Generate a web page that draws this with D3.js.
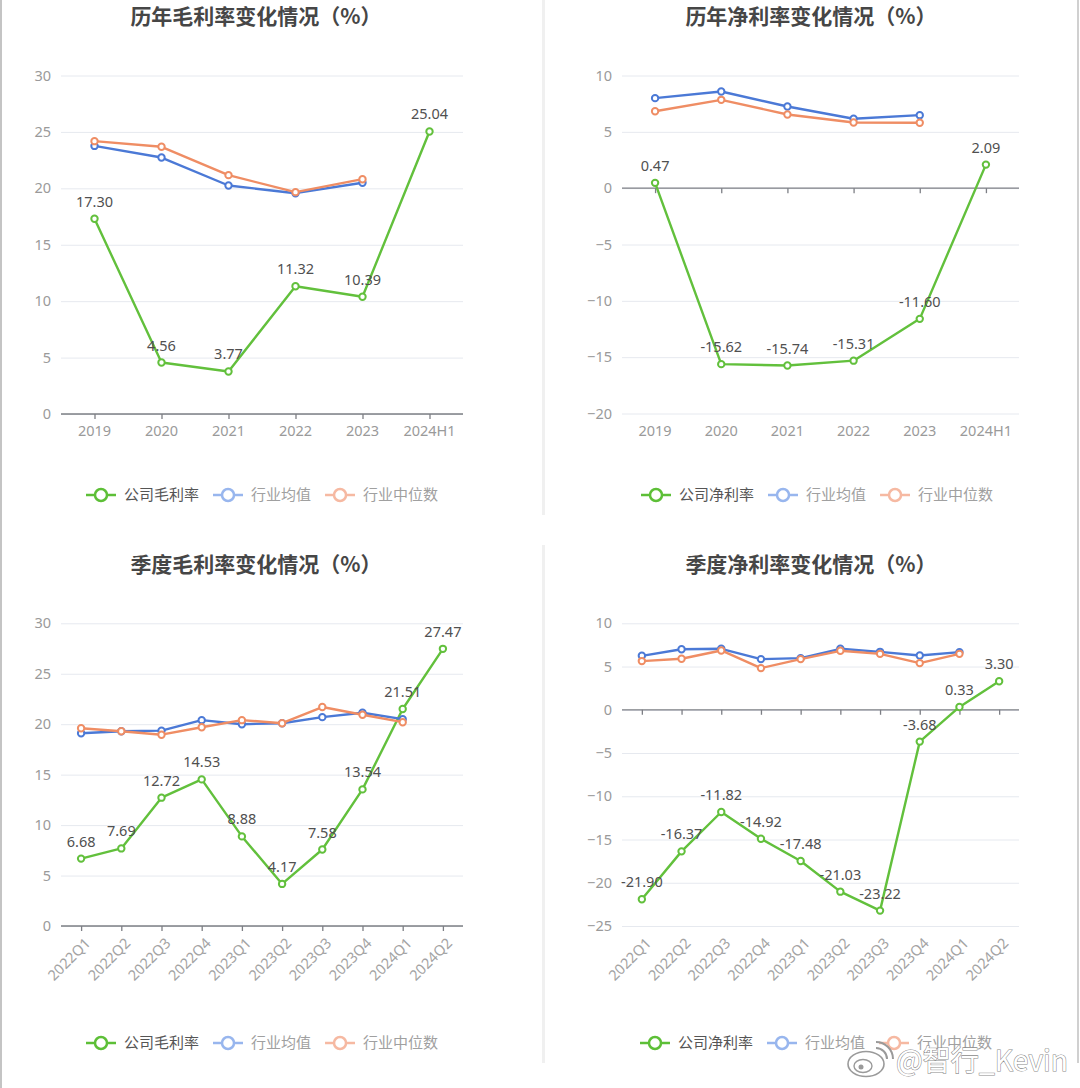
<!DOCTYPE html>
<html><head><meta charset="utf-8">
<script src="https://cdn.jsdelivr.net/npm/d3@7"></script>
<style>html,body{margin:0;padding:0;background:#fff;}svg{display:block;font-family:"Noto Sans CJK SC","Noto Sans",sans-serif;}</style>
</head><body>
<svg id="c" width="1080" height="1088"></svg>
<script>
// ---------- data ----------
const yearCats = ["2019","2020","2021","2022","2023","2024H1"];
const quarterCats = ["2022Q1","2022Q2","2022Q3","2022Q4","2023Q1","2023Q2","2023Q3","2023Q4","2024Q1","2024Q2"];

const annualGross       = [17.30, 4.56, 3.77, 11.32, 10.39, 25.04];
const annualGrossAvg    = [23.76, 22.73, 20.25, 19.57, 20.49, null];
const annualGrossMedian = [24.18, 23.68, 21.17, 19.66, 20.81, null];

const annualNet       = [0.47, -15.62, -15.74, -15.31, -11.60, 2.09];
const annualNetAvg    = [7.99, 8.58, 7.25, 6.16, 6.48, null];
const annualNetMedian = [6.83, 7.84, 6.54, 5.83, 5.80, null];

const quarterGross       = [6.68, 7.69, 12.72, 14.53, 8.88, 4.17, 7.58, 13.54, 21.51, 27.47];
const quarterGrossAvg    = [19.1, 19.3, 19.36, 20.4, 20.0, 20.1, 20.7, 21.14, 20.5, null];
const quarterGrossMedian = [19.6, 19.3, 18.96, 19.7, 20.4, 20.1, 21.7, 20.94, 20.2, null];

const quarterNet       = [-21.90, -16.37, -11.82, -14.92, -17.48, -21.03, -23.22, -3.68, 0.33, 3.30];
const quarterNetAvg    = [6.24, 7.0, 7.05, 5.86, 5.97, 7.05, 6.7, 6.28, 6.67, null];
const quarterNetMedian = [5.63, 5.9, 6.86, 4.82, 5.86, 6.82, 6.47, 5.4, 6.47, null];

const grossTicks = [0, 5, 10, 15, 20, 25, 30];
const annualNetTicks = [-20, -15, -10, -5, 0, 5, 10];
const quarterNetTicks = [-25, -20, -15, -10, -5, 0, 5, 10];

const titles = ["历年毛利率变化情况（%）", "历年净利率变化情况（%）", "季度毛利率变化情况（%）", "季度净利率变化情况（%）"];
const grossLegend = ["公司毛利率", "行业均值", "行业中位数"];
const netLegend = ["公司净利率", "行业均值", "行业中位数"];
const watermark = "@智行_Kevin";

// ---------- style ----------
const GREEN = "#62c03c", BLUE = "#4b79d6", ORANGE = "#ef8d64";
const LEG_COLORS = ["#5dbf37", "#98b6ee", "#f6b9a2"];
const svg = d3.select("#c");

// panel frame
svg.append("rect").attr("x",0).attr("y",0).attr("width",1080).attr("height",1088).attr("fill","#fff");
svg.append("rect").attr("x",0).attr("y",0).attr("width",2).attr("height",1088).attr("fill","#c4c4c4");
svg.append("rect").attr("x",1077).attr("y",0).attr("width",2).attr("height",1063).attr("fill","#d0d0d0");
svg.append("rect").attr("x",542).attr("y",0).attr("width",3).attr("height",515).attr("fill","#f0f0f0");
svg.append("rect").attr("x",542).attr("y",545).attr("width",3).attr("height",518).attr("fill","#f0f0f0");

function drawChart(cfg) {
  const g = svg.append("g");
  const x = d3.scalePoint().domain(cfg.cats).range([cfg.left, cfg.right]).padding(0.5);
  const y = d3.scaleLinear().domain(cfg.domain).range([cfg.bottom, cfg.top]);

  // title
  g.append("text").attr("x", cfg.titleX).attr("y", cfg.titleY)
    .attr("text-anchor","middle").attr("font-size",21).attr("font-weight","bold")
    .attr("fill","#464646").text(cfg.title);

  // grid
  const yAxis = d3.axisLeft(y).tickValues(cfg.ticks).tickSize(-(cfg.right-cfg.left)).tickPadding(10).tickFormat(d3.format("d"));
  const ga = g.append("g").attr("transform", `translate(${cfg.left},0)`).call(yAxis);
  ga.select(".domain").remove();
  ga.selectAll(".tick line").attr("stroke","#e6e9ef").attr("stroke-width",1);
  ga.selectAll(".tick text").attr("fill","#9a9a9a").attr("font-size",14.5).attr("font-family","Noto Sans, sans-serif");

  // zero axis with ticks
  const xAxis = d3.axisBottom(x).tickSize(5).tickFormat("");
  const gx = g.append("g").attr("transform", `translate(0,${y(0)})`).call(xAxis);
  gx.select(".domain").attr("stroke","#7d7f85").attr("stroke-width",1.3).attr("d", `M${cfg.left},0H${cfg.right}`);
  gx.selectAll(".tick line").attr("stroke","#7d7f85").attr("stroke-width",1.3);

  // category labels at bottom
  const lab = g.append("g");
  cfg.cats.forEach(c => {
    if (cfg.rotate) {
      lab.append("text").attr("transform", `translate(${x(c)+3},${cfg.bottom+11}) rotate(-45)`)
        .attr("text-anchor","end").attr("dy","0.7em").attr("font-size",14.5).attr("fill","#a3a3a3")
        .attr("font-family","Noto Sans, sans-serif").text(c);
    } else {
      lab.append("text").attr("x", x(c)).attr("y", cfg.bottom + 22).attr("text-anchor","middle")
        .attr("font-size",14.5).attr("fill","#9a9a9a").attr("font-family","Noto Sans, sans-serif").text(c);
    }
  });

  // series
  const line = d3.line().defined(d => d.v !== null).x(d => x(d.c)).y(d => y(d.v));
  cfg.series.forEach(s => {
    const pts = cfg.cats.map((c,i) => ({c, v: s.values[i]}));
    g.append("path").datum(pts).attr("d", line).attr("fill","none")
      .attr("stroke", s.color).attr("stroke-width", 2.4).attr("stroke-linejoin","round");
    g.selectAll(null).data(pts.filter(d => d.v !== null)).enter().append("circle")
      .attr("cx", d => x(d.c)).attr("cy", d => y(d.v)).attr("r", 3.2)
      .attr("fill","#fff").attr("stroke", s.color).attr("stroke-width", 2);
  });
  // labels for company series
  const comp = cfg.series.find(s => s.labels);
  cfg.cats.forEach((c,i) => {
    g.append("text").attr("x", x(c)).attr("y", y(comp.values[i]) - 12)
      .attr("text-anchor","middle").attr("font-size",14.5).attr("fill","#505050")
      .attr("font-family","Noto Sans, sans-serif").text(comp.values[i].toFixed(2));
  });

  // legend
  const lg = g.append("g");
  let lx = cfg.legendX;
  cfg.legend.forEach((name, i) => {
    const col = LEG_COLORS[i];
    lg.append("line").attr("x1", lx).attr("x2", lx+30).attr("y1", cfg.legendY).attr("y2", cfg.legendY)
      .attr("stroke", col).attr("stroke-width", 2.5);
    lg.append("circle").attr("cx", lx+15).attr("cy", cfg.legendY).attr("r", 6)
      .attr("fill","#fff").attr("stroke", col).attr("stroke-width", 2.5);
    const t = lg.append("text").attr("x", lx+38).attr("y", cfg.legendY).attr("dy","0.36em")
      .attr("font-size",15).attr("fill", i === 0 ? "#555" : "#a0a0a0").text(name);
    lx += 38 + t.node().getComputedTextLength() + 14;
  });
}

drawChart({title: titles[0], titleX: 256, titleY: 24, cats: yearCats, domain: [0,30], ticks: grossTicks,
  left: 61, right: 463, top: 75.5, bottom: 414, rotate: false, legend: grossLegend, legendX: 86, legendY: 495,
  series: [{values: annualGross, color: GREEN, labels: true}, {values: annualGrossAvg, color: BLUE}, {values: annualGrossMedian, color: ORANGE}]});

drawChart({title: titles[1], titleX: 811, titleY: 24, cats: yearCats, domain: [-20,10], ticks: annualNetTicks,
  left: 622, right: 1019, top: 75.5, bottom: 413.5, rotate: false, legend: netLegend, legendX: 641, legendY: 495,
  series: [{values: annualNet, color: GREEN, labels: true}, {values: annualNetAvg, color: BLUE}, {values: annualNetMedian, color: ORANGE}]});

drawChart({title: titles[2], titleX: 256, titleY: 572, cats: quarterCats, domain: [0,30], ticks: grossTicks,
  left: 61, right: 463, top: 623.3, bottom: 926, rotate: true, legend: grossLegend, legendX: 86, legendY: 1043,
  series: [{values: quarterGross, color: GREEN, labels: true}, {values: quarterGrossAvg, color: BLUE}, {values: quarterGrossMedian, color: ORANGE}]});

drawChart({title: titles[3], titleX: 811, titleY: 572, cats: quarterCats, domain: [-25,10], ticks: quarterNetTicks,
  left: 622, right: 1019, top: 623.3, bottom: 926, rotate: true, legend: netLegend, legendX: 640, legendY: 1043,
  series: [{values: quarterNet, color: GREEN, labels: true}, {values: quarterNetAvg, color: BLUE}, {values: quarterNetMedian, color: ORANGE}]});

// watermark
const wm = svg.append("g");
wm.append("ellipse").attr("cx", 866).attr("cy", 1064).attr("rx", 18).attr("ry", 12.5)
  .attr("fill","#fff").attr("stroke","#9a9a9a").attr("stroke-width",1.6);
wm.append("ellipse").attr("cx", 863).attr("cy", 1066).attr("rx", 9).attr("ry", 6.5)
  .attr("fill","#fff").attr("stroke","#9a9a9a").attr("stroke-width",1.4);
wm.append("circle").attr("cx", 861).attr("cy", 1067).attr("r", 2.5).attr("fill","#9a9a9a");
wm.append("path").attr("d","M876,1048 a11,11 0 0 1 11,11").attr("fill","none").attr("stroke","#9a9a9a").attr("stroke-width",2);
wm.append("path").attr("d","M876,1042 a17,17 0 0 1 17,17").attr("fill","none").attr("stroke","#9a9a9a").attr("stroke-width",2);
wm.append("text").attr("x", 896).attr("y", 1071).attr("font-size", 29)
  .attr("textLength", 172).attr("lengthAdjust", "spacingAndGlyphs")
  .attr("fill","#fff").attr("stroke","#8a8a8a").attr("stroke-width",1.1).attr("paint-order","stroke")
  .text(watermark);
</script>
</body></html>
